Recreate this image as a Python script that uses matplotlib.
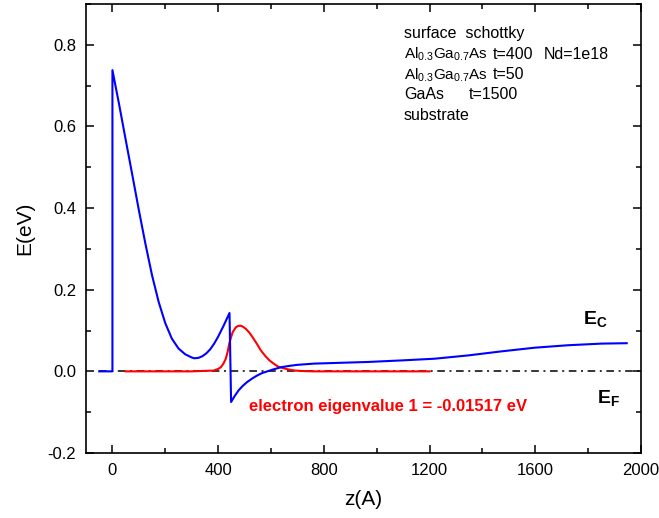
import matplotlib

matplotlib.use("Agg")
import matplotlib.pyplot as plt
from matplotlib.ticker import MultipleLocator

plt.rcParams["font.family"] = ["Liberation Sans", "DejaVu Sans"]
plt.rcParams["mathtext.fontset"] = "custom"
plt.rcParams["mathtext.rm"] = "Liberation Sans"
plt.rcParams["mathtext.bf"] = "Liberation Sans:bold"
plt.rcParams["axes.unicode_minus"] = False

# conduction band edge E_C(z)
ec_z = [-50, 0, 0, 25, 50, 75, 100, 125, 150, 175, 200, 225, 250, 275, 300,
        310, 325, 340, 355, 370, 385, 400, 410, 420, 443, 449, 463, 478, 494,
        510, 530, 548, 567, 586, 610, 637, 670, 700, 763, 864, 966, 1100, 1219,
        1345, 1472, 1598, 1724, 1851, 1946]
ec_e = [0.0, 0.0, 0.738, 0.655, 0.568, 0.482, 0.395, 0.312, 0.235, 0.170,
        0.118, 0.080, 0.056, 0.042, 0.034, 0.032, 0.033, 0.037, 0.044, 0.054,
        0.068, 0.085, 0.098, 0.111, 0.143, -0.075, -0.060, -0.046, -0.035,
        -0.026, -0.017, -0.010, -0.004, 0.0, 0.005, 0.010, 0.0135, 0.016,
        0.019, 0.021, 0.023, 0.027, 0.031, 0.039, 0.049, 0.058, 0.064, 0.068,
        0.069]

# ground-state wavefunction (arbitrary scale)
psi_z = [50, 300, 384, 400, 410, 420, 429, 436, 442, 449, 455, 467, 475, 484,
         495, 505, 518, 530, 546, 562, 578, 594, 610, 626, 645, 664, 690, 714,
         760, 1200]
psi_e = [0.0, 0.0, 0.002, 0.006, 0.010, 0.019, 0.031, 0.048, 0.068, 0.084,
         0.096, 0.108, 0.111, 0.112, 0.109, 0.104, 0.095, 0.084, 0.068, 0.051,
         0.038, 0.027, 0.019, 0.012, 0.008, 0.005, 0.002, 0.001, 0.0, 0.0]

# Fermi level
ef_z = [-50, 2000]
ef_e = [0.0, 0.0]

fig = plt.figure(figsize=(6.59, 5.18), dpi=100)
ax = fig.add_axes([86 / 659, 1 - 453 / 518, 555 / 659, 449 / 518])

ax.plot(ef_z, ef_e, color="black", lw=1.1, linestyle=(0, (5.0, 3.0, 1.3, 3.0)))
ax.plot(psi_z, psi_e, color="#ff0000", lw=1.5)
ax.plot(ec_z, ec_e, color="#0000ff", lw=1.5)

ax.set_xlim(-100, 2000)
ax.set_ylim(-0.2, 0.9)
ax.xaxis.set_major_locator(MultipleLocator(400))
ax.xaxis.set_minor_locator(MultipleLocator(200))
ax.yaxis.set_minor_locator(MultipleLocator(0.1))
ax.set_yticks([-0.2, 0.0, 0.2, 0.4, 0.6, 0.8])
ax.set_yticklabels(["-0.2", "0.0", "0.2", "0.4", "0.6", "0.8"])

ax.tick_params(which="both", direction="in", top=True, right=True,
               width=1.1, labelsize=12, pad=7)
ax.tick_params(which="major", length=6)
ax.tick_params(which="minor", length=3.5)
for sp in ax.spines.values():
    sp.set_linewidth(1.2)

ax.set_xlabel("z(A)", fontsize=15, labelpad=9)
ax.set_ylabel("E(eV)", fontsize=15, labelpad=10)

# layer stack description
fs = 11.5
ax.text(1103, 0.816, "surface  schottky", fontsize=fs, va="baseline")
ax.text(1103, 0.766, r"Al$_{0.3}$Ga$_{0.7}$As", fontsize=11, va="baseline")
ax.text(1439, 0.766, "t=400", fontsize=fs, va="baseline")
ax.text(1633, 0.766, "Nd=1e18", fontsize=fs, va="baseline")
ax.text(1103, 0.7165, r"Al$_{0.3}$Ga$_{0.7}$As", fontsize=11, va="baseline")
ax.text(1439, 0.7165, "t=50", fontsize=fs, va="baseline")
ax.text(1103, 0.667, "GaAs", fontsize=fs, va="baseline")
ax.text(1350, 0.667, "t=1500", fontsize=fs, va="baseline")
ax.text(1103, 0.617, "substrate", fontsize=fs, va="baseline")

ax.text(1779, 0.116, r"$\mathbf{E_C}$", fontsize=14, va="baseline")
ax.text(1835, -0.078, r"$\mathbf{E_F}$", fontsize=14, va="baseline")
ax.text(518, -0.097, "electron eigenvalue 1 = -0.01517 eV", color="#ff0000",
        fontsize=12, fontweight="bold", va="baseline")

fig.savefig("out.png", dpi=100)
